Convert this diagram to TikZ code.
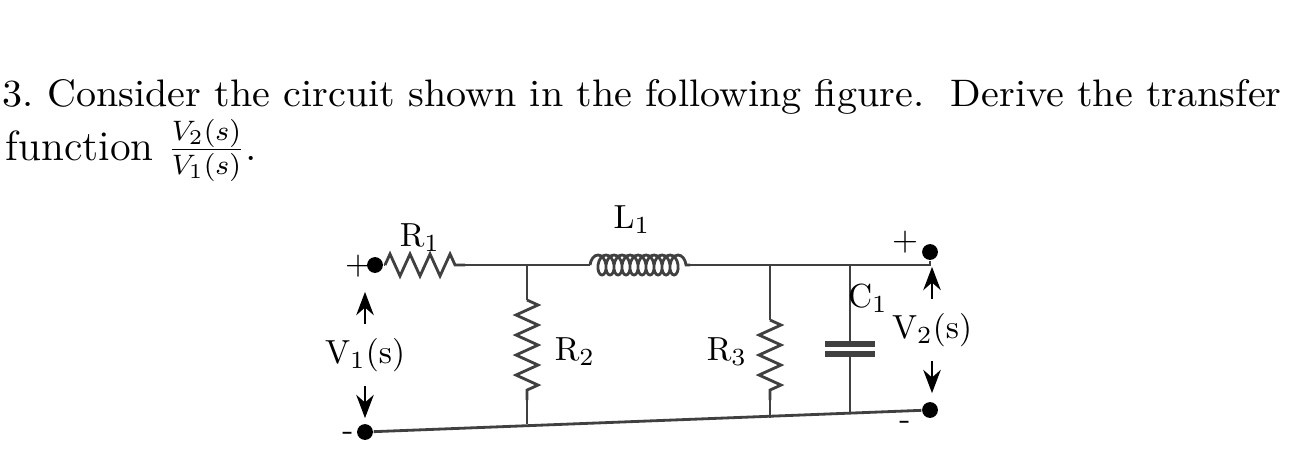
\documentclass[tikz,border=0pt]{standalone}
\usetikzlibrary{decorations.pathmorphing,arrows.meta}
\colorlet{wire}{black!75}
\tikzset{
  resistor/.style={draw=wire, thick, decorate, decoration={zigzag, segment length=2mm, amplitude=1.1mm}},
  coil/.style={draw=wire, thick, decorate, decoration={coil, aspect=0.6, segment length=0.8mm, amplitude=1mm}}
  }
\tikzstyle{wire line} = [draw=wire, thick]
\tikzstyle{terminal}=[circle,fill=black,minimum size=4.5pt,inner sep=0pt]
\tikzstyle{label}=[font=\fontsize{9.5}{11}\selectfont]
\begin{document}
\begin{tikzpicture}[x=0.01cm, y=-0.01cm]
    \useasboundingbox[fill=white] (0,0) rectangle (1304,448);

    % The question
    \node[anchor=base west, inner sep=0pt] (q1) at (2,106) {\resizebox{12.78cm}{0.27cm}{3.\ Consider the circuit shown in the following figure.\ \ Derive the transfer}};
    \node[anchor=base west, inner sep=0pt, font=\fontsize{12}{14}\selectfont] (q2) at (5,160) {function $\frac{V_2(s)}{V_1(s)}$.};

    % The terminals
    \foreach \pos/\name in {{(375,265)/intop}, {(365,432)/inbot}, {(930,252)/outtop}, {(930,410)/outbot}} {
      \node[terminal] (\name) at \pos {};
    }

    % Corner points of the network
    \foreach \pos/\name in {{(385,265)/ra}, {(465,265)/rb}, {(590,265)/la}, {(690,265)/lb}, {(527,265)/t2}, {(770,265)/t3}, {(850,265)/t4}, {(930,265)/t5}, {(527,424)/b2}, {(770,418)/b3}, {(850,414)/b4}, {(850,344)/c1}, {(850,354)/c2}} {
      \path \pos coordinate (\name);
    }

    % Wires
    \path[wire line] (intop) -- (ra);
    \path[resistor] (ra) -- (rb);
    \path[wire line] (rb) -- (la);
    \path[coil] (la) -- (lb);
    \path[wire line] (lb) -- (t5) -- (outtop);
    \path[wire line] (inbot) -- (outbot);
    \path[wire line] (t2) -- (527,300);
    \path[resistor] (527,300) -- (527,400);
    \path[wire line] (527,400) -- (b2);
    \path[wire line] (t3) -- (770,320);
    \path[resistor] (770,320) -- (770,400);
    \path[wire line] (770,400) -- (b3);
    \path[wire line] (t4) -- (c1);
    \path[wire line] (c2) -- (b4);
    \draw[wire, line width=1.5pt] (825,344) -- (875,344);
    \draw[wire, line width=1.5pt] (825,354) -- (875,354);

    % Labels
    \node[label] (lr1) at (420,238) {R$_1$};
    \node[label] (ll1) at (632,220) {L$_1$};
    \node[label] (lr2) at (575,352) {R$_2$};
    \node[label] (lr3) at (727,352) {R$_3$};
    \node[label] (lc1) at (868,298) {C$_1$};
    \node[label] (lv1) at (365,355) {V$_1$(s)};
    \node[label] (lv2) at (932,330) {V$_2$(s)};
    \node[label] (p1) at (358,266) {+};
    \node[label] (p2) at (905,242) {+};
    \node[label] (m1) at (348,436) {-};
    \node[label] (m2) at (905,425) {-};

    % Voltage arrows
    \draw[-{Stealth}, thick] (lv1.north) ++(0,-2) -- ++(0,-32);
    \draw[-{Stealth}, thick] (lv1.south) ++(0,2) -- ++(0,32);
    \draw[-{Stealth}, thick] (lv2.north) ++(0,-2) -- ++(0,-32);
    \draw[-{Stealth}, thick] (lv2.south) ++(0,2) -- ++(0,32);
\end{tikzpicture}
\end{document}
